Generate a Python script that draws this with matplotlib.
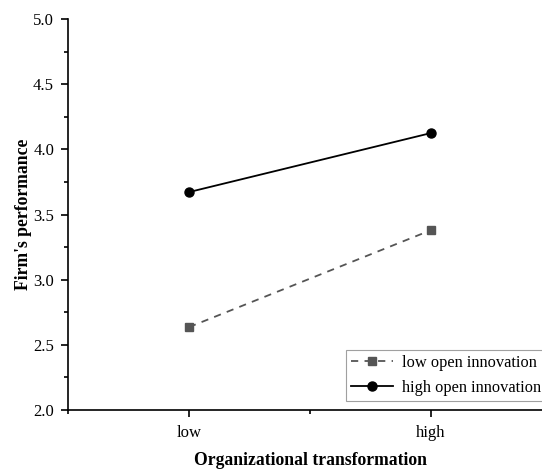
import matplotlib
matplotlib.use('Agg')
import matplotlib.pyplot as plt
from matplotlib.ticker import MultipleLocator, FormatStrFormatter

# data
categories = ['low', 'high']
low_oi = [2.636, 3.38]
high_oi = [3.672, 4.125]

plt.rcParams['font.family'] = ['Liberation Serif', 'DejaVu Serif']
plt.rcParams['font.size'] = 12

fig = plt.figure(figsize=(5.42, 4.69), dpi=100)
# axes right edge runs slightly past the image, as in the reference
ax = fig.add_axes([68 / 542, (469 - 410) / 469, (552 - 68) / 542, (410 - 19) / 469])

x = [1, 2]
ax.plot(x, low_oi, color='#555555', linestyle=(0, (4, 3.5)), linewidth=1.3,
        marker='s', markersize=6, label='low open innovation')
ax.plot(x, high_oi, color='black', linestyle='-', linewidth=1.3,
        marker='o', markersize=6.5, label='high open innovation')

ax.set_xlim(0.5, 2.5)
ax.set_ylim(2.0, 5.0)
ax.set_xticks(x)
ax.set_xticklabels(categories)
ax.xaxis.set_minor_locator(MultipleLocator(0.5))
ax.yaxis.set_major_locator(MultipleLocator(0.5))
ax.yaxis.set_minor_locator(MultipleLocator(0.25))
ax.yaxis.set_major_formatter(FormatStrFormatter('%.1f'))

ax.spines['top'].set_visible(False)
ax.spines['right'].set_visible(False)
for s in ['left', 'bottom']:
    ax.spines[s].set_linewidth(1.2)
ax.tick_params(which='major', direction='out', length=5, width=1.2, labelsize=12)
ax.tick_params(which='minor', direction='out', length=3, width=1.2)
ax.tick_params(axis='x', pad=6)
ax.tick_params(axis='y', pad=5)

ax.set_xlabel('Organizational transformation', fontweight='bold', fontsize=12.7, labelpad=8)
ax.set_ylabel("Firm's performance", fontweight='bold', fontsize=12.7, labelpad=0.5)

leg = ax.legend(loc='lower right', bbox_to_anchor=(0.987, 0.023), fontsize=11.8,
                handlelength=2.6, frameon=True, fancybox=False, edgecolor='#888888',
                borderpad=0.3, labelspacing=0.55, handletextpad=0.5, borderaxespad=0)
leg.get_frame().set_linewidth(0.8)

plt.savefig('out.png', dpi=100)
